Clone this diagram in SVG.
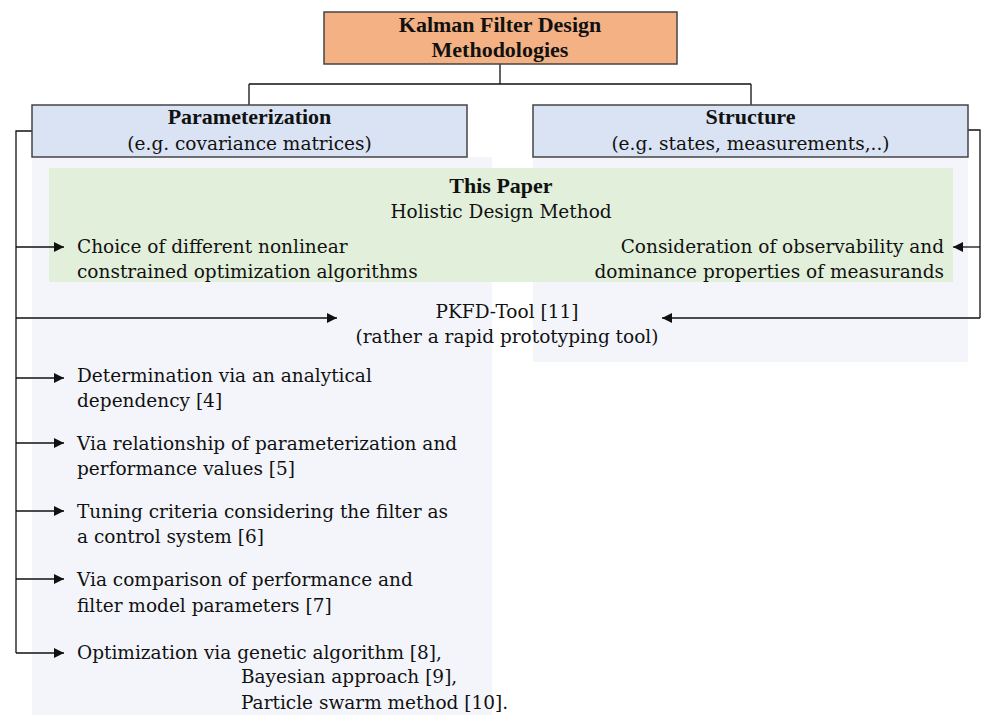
<svg xmlns="http://www.w3.org/2000/svg" width="981" height="715" viewBox="0 0 981 715">
<defs>
<style>
text{font-family:"DejaVu Serif","Liberation Serif",serif;font-size:18.5px;fill:#111}
.b{font-family:"Liberation Serif","Times New Roman",serif;font-weight:bold;font-size:22px}
.c{text-anchor:middle}
.e{text-anchor:end}
.box{stroke:#444;stroke-width:1.5}
.ln{fill:none;stroke:#111;stroke-width:1.3}
</style>
<marker id="ah" viewBox="0 0 10 10" refX="10" refY="5" markerWidth="10" markerHeight="10" markerUnits="userSpaceOnUse" orient="auto">
<path d="M0,0 L10,5 L0,10 z" fill="#111"/>
</marker>
</defs>
<rect width="981" height="715" fill="#fff"/>
<g id="panels">
<rect x="32" y="157" width="460" height="558" fill="#F3F5FB"/>
<rect x="533" y="157" width="435" height="205" fill="#F3F5FB"/>
</g>
<g id="this-paper">
<rect x="49" y="168" width="904" height="114" fill="#E2EFDA"/>
<text class="b c" x="501" y="193">This Paper</text>
<text class="c" x="501" y="218">Holistic Design Method</text>
</g>
<g id="connectors">
<path class="ln" d="M500,64 V84 M249,84 H751 M249,84 V105 M751,84 V105"/>
<path class="ln" d="M32,131 H16 V653"/>
<path class="ln" d="M968,130 H980 V318"/>
<path class="ln" marker-end="url(#ah)" d="M16,247 H64"/>
<path class="ln" marker-end="url(#ah)" d="M16,318 H337"/>
<path class="ln" marker-end="url(#ah)" d="M980,247 H953"/>
<path class="ln" marker-end="url(#ah)" d="M980,318 H662"/>
<path class="ln" marker-end="url(#ah)" d="M16,378 H64"/>
<path class="ln" marker-end="url(#ah)" d="M16,443 H64"/>
<path class="ln" marker-end="url(#ah)" d="M16,511 H64"/>
<path class="ln" marker-end="url(#ah)" d="M16,579 H64"/>
<path class="ln" marker-end="url(#ah)" d="M16,653 H64"/>
</g>
<g id="root">
<rect class="box" x="324" y="12" width="353" height="52" fill="#F4B183"/>
<text class="b c" x="500" y="32">Kalman Filter Design</text>
<text class="b c" x="500" y="57">Methodologies</text>
</g>
<g id="parameterization">
<rect class="box" x="32" y="105" width="435" height="52" fill="#DAE3F3"/>
<text class="b c" x="249.5" y="124">Parameterization</text>
<text class="c" x="249.5" y="150">(e.g. covariance matrices)</text>
</g>
<g id="structure">
<rect class="box" x="533" y="105" width="435" height="52" fill="#DAE3F3"/>
<text class="b c" x="750.5" y="124">Structure</text>
<text class="c" x="750.5" y="150">(e.g. states, measurements,..)</text>
</g>
<g id="choice">
<text x="77" y="253">Choice of different nonlinear</text>
<text x="77" y="278">constrained optimization algorithms</text>
</g>
<g id="consideration">
<text class="e" x="944" y="253">Consideration of observability and</text>
<text class="e" x="944" y="278">dominance properties of measurands</text>
</g>
<g id="pkfd">
<text class="c" x="507" y="318">PKFD-Tool [11]</text>
<text class="c" x="507" y="343">(rather a rapid prototyping tool)</text>
</g>
<g id="item4">
<text x="77" y="382">Determination via an analytical</text>
<text x="77" y="407">dependency [4]</text>
</g>
<g id="item5">
<text x="77" y="450">Via relationship of parameterization and</text>
<text x="77" y="475">performance values [5]</text>
</g>
<g id="item6">
<text x="77" y="518">Tuning criteria considering the filter as</text>
<text x="77" y="543">a control system [6]</text>
</g>
<g id="item7">
<text x="77" y="586">Via comparison of performance and</text>
<text x="77" y="612">filter model parameters [7]</text>
</g>
<g id="item8">
<text x="77" y="659">Optimization via genetic algorithm [8],</text>
<text x="241" y="683">Bayesian approach [9],</text>
<text x="241" y="709">Particle swarm method [10].</text>
</g>
</svg>
